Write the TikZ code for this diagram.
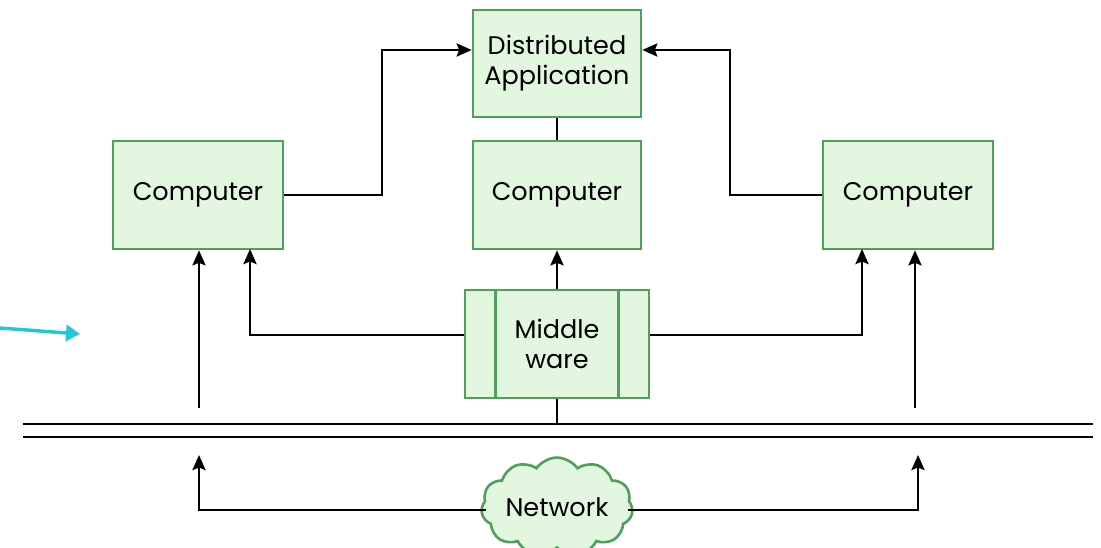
\documentclass[tikz,border=0pt]{standalone}
\usepackage{fontspec}
\setmainfont{Poppins}
\usetikzlibrary{arrows.meta,shapes.symbols}
\definecolor{boxline}{RGB}{78,160,92}
\definecolor{boxfill}{RGB}{226,246,224}
\definecolor{pointer}{RGB}{38,198,214}
\tikzset{
  x=1pt, y=-1pt,
  label font/.style={font=\fontsize{25.5}{30}\selectfont},
  box/.style={draw=boxline, fill=boxfill, line width=2.6pt, align=center,
    label font, inner sep=0pt},
  wire/.style={line width=2.7pt, black},
  arr/.style={wire, -{Stealth[length=15pt,width=13pt,inset=2.5pt]}},
}
\begin{document}
\begin{tikzpicture}
\useasboundingbox (0,0) rectangle (1101,548);

% application and computers
\node[box, minimum width=168pt, minimum height=107pt] (app) at (557,63.5) {Distributed\\Application};
\node[box, minimum width=170pt, minimum height=108pt] (cl) at (198,195) {Computer};
\node[box, minimum width=168pt, minimum height=108pt] (cm) at (557,195) {Computer};
\node[box, minimum width=170pt, minimum height=108pt] (cr) at (908,195) {Computer};

% middleware block with its two side bars
\node[box, minimum width=184pt, minimum height=108pt] (mw) at (557,344) {Middle\\ware};
\draw[boxline, line width=2.6pt] (mw.north west) ++(32,0) -- ++(0,108);
\draw[boxline, line width=2.6pt] (mw.north east) ++(-32,0) -- ++(0,108);

% network bus
\coordinate (busL1) at (23,424);
\coordinate (busR1) at (1093,424);
\coordinate (busL2) at (23,437);
\coordinate (busR2) at (1093,437);
\draw[wire] (busL1) -- (busR1);
\draw[wire] (busL2) -- (busR2);

% network cloud
\node[cloud, cloud puffs=11, cloud puff arc=110, aspect=1.8, draw=boxline, fill=boxfill,
  line width=2.6pt, minimum width=150pt, minimum height=88pt, inner sep=0pt,
  label font] (net) at (557,507) {Network};
\coordinate (netL) at (486,510);
\coordinate (netR) at (628,510);

% computers to the application
\draw[arr] (cl.east) -- (382,195) -- (382,50) -- (app.west |- 0,50);
\draw[arr] (cr.west) -- (730,195) -- (730,50) -- (app.east |- 0,50);
\draw[wire] (app.south) -- (cm.north);

% middleware to the computers
\draw[arr] (mw.north) -- (cm.south);
\draw[arr] (mw.west |- 0,335) -- (250,335) -- (250,249);
\draw[arr] (mw.east |- 0,335) -- (862,335) -- (862,249);
\draw[wire] (mw.south) -- (557,424);

% bus to the computers
\coordinate (tapL) at (199,408);
\coordinate (tapR) at (915,408);
\draw[arr] (tapL) -- (tapL |- cl.south);
\draw[arr] (tapR) -- (tapR |- cr.south);

% network to the bus
\draw[arr] (netL) -- (199,510) -- (199,455);
\draw[arr] (netR) -- (918,510) -- (918,455);

% pointer arrow
\draw[pointer, line width=3.5pt, -{Triangle[length=14pt,width=16pt]}] (0,328) -- (80,334);
\end{tikzpicture}
\end{document}
